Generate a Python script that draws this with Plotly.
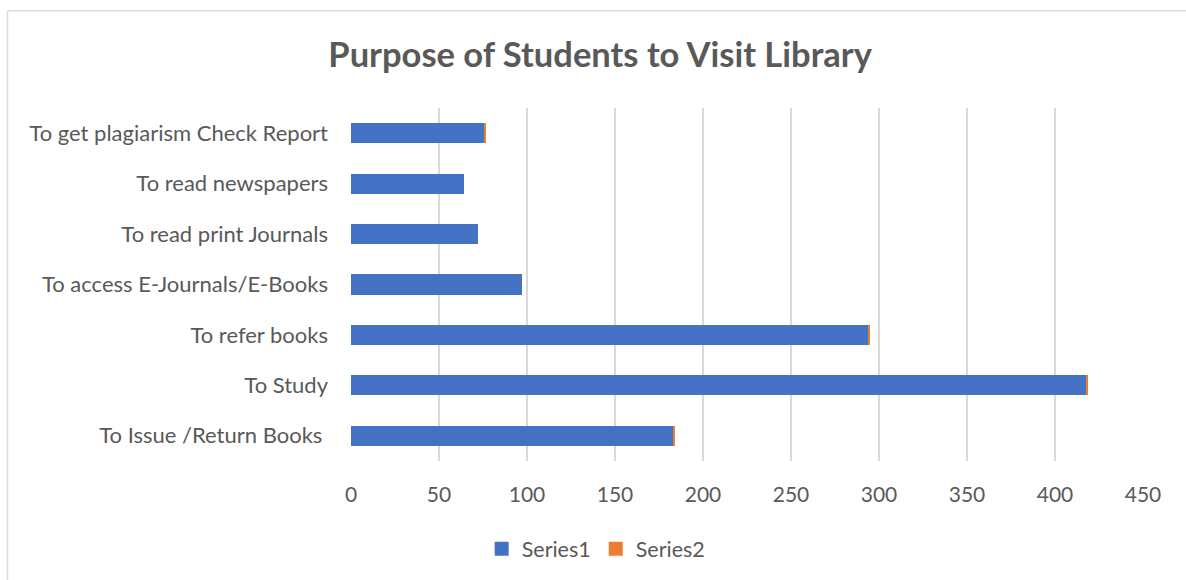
import plotly.graph_objects as go

categories = ["To Issue /Return Books ", "To Study", "To refer books",
              "To access E-Journals/E-Books", "To read print Journals",
              "To read newspapers", "To get plagiarism Check Report"]
series1 = [183, 418, 294, 97, 72, 64, 76]
series2 = [0.6, 0.9, 0.8, 0, 0, 0, 0.3]
x_ticks = [0, 50, 100, 150, 200, 250, 300, 350, 400, 450]

FONT = "Lato"
GRAY = "#595959"
C1, C2 = "#4472C4", "#ED7D31"

fig = go.Figure()
fig.add_trace(go.Bar(y=categories, x=series1, orientation="h", name="Series1",
                     marker=dict(color=C1, line=dict(width=0)), showlegend=False))
fig.add_trace(go.Bar(y=categories, x=series2, orientation="h", name="Series2",
                     marker=dict(color=C2, line=dict(width=0)), showlegend=False))
# legend entries with larger square swatches
for name, col in [("Series1", C1), ("Series2", C2)]:
    fig.add_trace(go.Scatter(x=[None], y=[None], mode="markers", name=name,
                             marker=dict(symbol="square", size=14, color=col),
                             showlegend=True, hoverinfo="skip"))

fig.update_layout(
    barmode="stack",
    bargap=0.6,
    width=1186, height=580,
    margin=dict(l=351, r=43, t=108, b=118),
    paper_bgcolor="white", plot_bgcolor="white",
    font=dict(family=FONT, color=GRAY, size=21),
    title=dict(text="<b>Purpose of Students to Visit Library</b>",
               x=0.506, xanchor="center", y=0.905, yanchor="middle",
               font=dict(family=FONT, size=34.5, color=GRAY)),
    xaxis=dict(range=[0, 450], tickvals=x_ticks, showgrid=True,
               gridcolor="#D9D9D9", gridwidth=1.5, zeroline=False,
               showline=False, ticks="", ticklabelstandoff=19,
               tickfont=dict(size=21, color=GRAY, family=FONT)),
    yaxis=dict(showgrid=False, zeroline=False, showline=False, ticks="",
               ticklabelstandoff=22,
               tickfont=dict(size=22, color=GRAY, family=FONT)),
    legend=dict(orientation="h", x=0.165, xanchor="left", y=-0.245,
                yanchor="middle", font=dict(size=21.5, color=GRAY, family=FONT),
                traceorder="normal", itemclick=False),
    shapes=[
        dict(type="line", xref="paper", yref="paper", x0=-0.4337, x1=-0.4337,
             y0=1.2754, y1=-0.34, line=dict(color="#D9D9D9", width=1.5)),
        dict(type="line", xref="paper", yref="paper", x0=-0.4337, x1=1.06,
             y0=1.2754, y1=1.2754, line=dict(color="#D9D9D9", width=1.5)),
    ],
)

fig.write_html("out.html", config={"displayModeBar": False},
               post_script="document.body.style.margin='0px';")
